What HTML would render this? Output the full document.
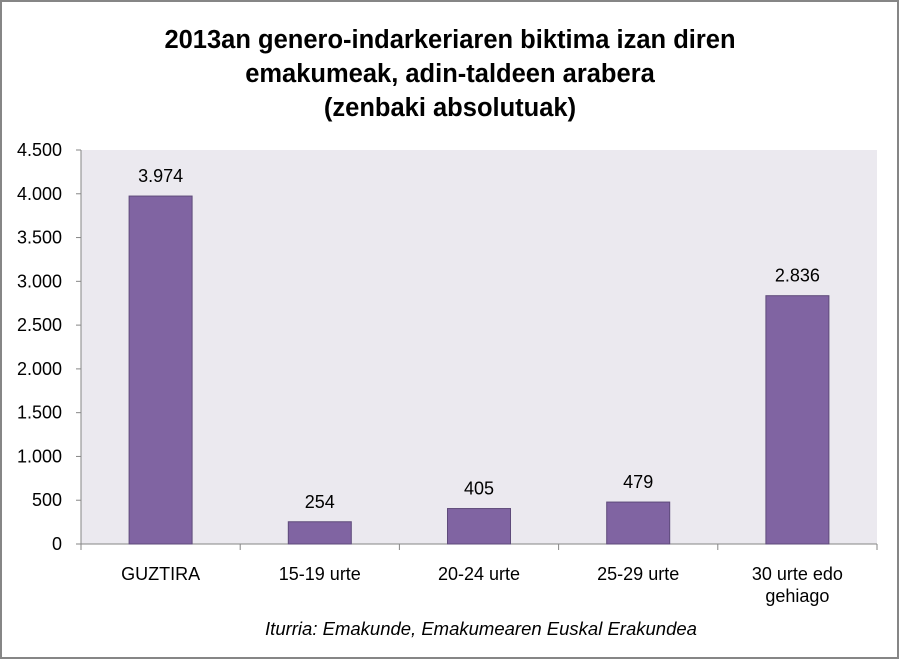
<!DOCTYPE html>
<html><head><meta charset="utf-8">
<style>
html,body{margin:0;padding:0;background:#fff;}
#chart{position:relative;width:900px;height:660px;}
svg text{font-family:"Liberation Sans",sans-serif;fill:#000;}
</style></head>
<body>
<div id="chart">
<svg id="svg" width="900" height="660" xmlns="http://www.w3.org/2000/svg">
<rect x="1" y="1" width="897" height="657" fill="#fff" stroke="#868686" stroke-width="2"/>
<g font-weight="bold" font-size="25.5" text-anchor="middle">
<text x="450" y="48" style="font-weight:bold">2013an genero-indarkeriaren biktima izan diren</text>
<text x="450" y="82" style="font-weight:bold">emakumeak, adin-taldeen arabera</text>
<text x="450" y="116" style="font-weight:bold">(zenbaki absolutuak)</text>
</g>
<rect x="81" y="150" width="796" height="394" fill="#EBE9EF"/>
<g id="axes"></g>
<g id="bars"></g>
<text x="481" y="635" font-size="18.5" font-style="italic" text-anchor="middle">Iturria: Emakunde, Emakumearen Euskal Erakundea</text>
</svg>
</div>
<script>
const categories = ["GUZTIRA","15-19 urte","20-24 urte","25-29 urte","30 urte edo|gehiago"];
const values = [3974,254,405,479,2836];
const valueLabels = ["3.974","254","405","479","2.836"];
const yTicks = [0,500,1000,1500,2000,2500,3000,3500,4000,4500];
const yTickLabels = ["0","500","1.000","1.500","2.000","2.500","3.000","3.500","4.000","4.500"];

const NS="http://www.w3.org/2000/svg";
const X0=81,X1=877,Y0=544,Y1=150,YMAX=4500;
function y(v){return Y0-(v/YMAX)*(Y0-Y1);}
const bandW=(X1-X0)/categories.length;
function xc(i){return X0+bandW*(i+0.5);}
function mk(tag,attrs,parent){const e=document.createElementNS(NS,tag);for(const k in attrs)e.setAttribute(k,attrs[k]);parent.appendChild(e);return e;}
const axes=document.getElementById('axes'),bars=document.getElementById('bars');
let l=mk('line',{x1:X0,y1:Y1,x2:X0,y2:Y0,stroke:'#868686'},axes);


l=mk('line',{x1:X0,y1:Y0,x2:X1,y2:Y0,stroke:'#868686'},axes);


yTicks.forEach((t,i)=>{
  const tk=mk('line',{x1:X0-5,y1:y(t),x2:X0,y2:y(t),stroke:'#868686'},axes);
  
  
  const tx=mk('text',{x:X0-19,y:y(t)+6,'font-size':18,'text-anchor':'end'},axes);
  tx.textContent=yTickLabels[i];
  
  
});
for(let i=0;i<=categories.length;i++){
  const tk=mk('line',{x1:X0+bandW*i,y1:Y0,x2:X0+bandW*i,y2:Y0+6,stroke:'#868686'},axes);
  
  
}
categories.forEach((c,i)=>{
  const parts=c.split('|');
  parts.forEach((p,j)=>{
    const tx=mk('text',{x:xc(i),y:580+j*22,'font-size':18,'text-anchor':'middle'},axes);
    tx.textContent=p;
    
    
  });
  const bw=63;
  const r=mk('rect',{x:xc(i)-bw/2,y:y(values[i]),width:bw,height:Y0-y(values[i]),fill:'#8064A2',stroke:'#5E4A7A','stroke-width':1},bars);
  
  
  const vl=mk('text',{x:xc(i),y:y(values[i])-14,'font-size':18,'text-anchor':'middle'},bars);
  vl.textContent=valueLabels[i];
  
  
});
</script>
</body></html>
